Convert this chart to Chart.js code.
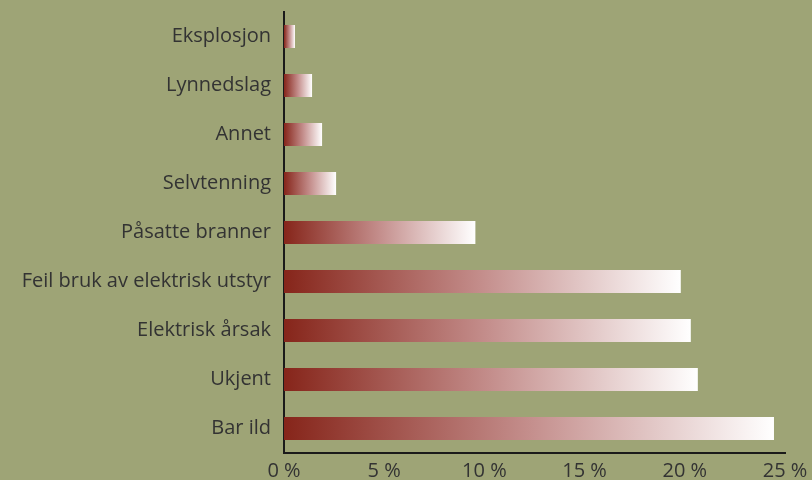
<!DOCTYPE html>
<html lang="no">
  <head>
    <meta charset="UTF-8" />
    <script src="https://cdn.jsdelivr.net/npm/chart.js@4/dist/chart.umd.min.js"></script>
    <title>Brannårsaker</title>
    <style>
      html, body { margin: 0; padding: 0; background: #9ea476; }
      #wrap { width: 812px; height: 480px; }
    </style>
  </head>
  <body>
    <div id="wrap"><canvas id="myChart"></canvas></div>
    <script>
      const causes = [
        "Eksplosjon",
        "Lynnedslag",
        "Annet",
        "Selvtenning",
        "Påsatte branner",
        "Feil bruk av elektrisk utstyr",
        "Elektrisk årsak",
        "Ukjent",
        "Bar ild",
      ];
      const shares = [0.55, 1.4, 1.9, 2.6, 9.55, 19.8, 20.3, 20.65, 24.45];
      const xTicks = [0, 5, 10, 15, 20, 25];

      function barFill(context) {
        const chart = context.chart;
        const x = chart.scales && chart.scales.x;
        if (!chart.chartArea || !x) return "#a05a50";
        const v = context.raw;
        const x0 = x.getPixelForValue(0);
        const x1 = x.getPixelForValue(v);
        if (!isFinite(x0) || !isFinite(x1) || x1 <= x0) return "#a05a50";
        const g = chart.ctx.createLinearGradient(x0, 0, x1, 0);
        g.addColorStop(0, "#86251a");
        g.addColorStop(0.5, "#c48e8c");
        g.addColorStop(1, "#ffffff");
        return g;
      }

      const font = { family: "Open Sans", size: 20 };

      const ctx = document.getElementById("myChart").getContext("2d");
      const myChart = new Chart(ctx, {
        type: "bar",
        data: {
          labels: causes,
          datasets: [
            {
              data: shares,
              backgroundColor: barFill,
              borderWidth: 0,
              barPercentage: 0.47,
              categoryPercentage: 1,
            },
          ],
        },
        options: {
          indexAxis: "y",
          responsive: true,
          maintainAspectRatio: false,
          animation: false,
          layout: { padding: { top: 12, right: 0, left: 0, bottom: 0 } },
          plugins: { legend: { display: false }, tooltip: { enabled: false } },
          scales: {
            x: {
              min: 0,
              max: 25,
              afterBuildTicks: (axis) => {
                axis.ticks = xTicks.map((v) => ({ value: v }));
              },
              afterFit: (axis) => {
                axis.height = 27;
                axis.paddingRight = 27;
                axis.paddingLeft = 0;
              },
              grid: { display: false, drawTicks: false },
              border: { display: true, color: "#1a1a1a", width: 2 },
              ticks: {
                color: "#333333",
                padding: 6,
                font: font,
                callback: (v) => v + " %",
              },
            },
            y: {
              afterFit: (axis) => {
                axis.width = 284;
                axis.paddingTop = 0;
                axis.paddingBottom = 0;
              },
              grid: { display: false, drawTicks: false },
              border: { display: true, color: "#1a1a1a", width: 2 },
              ticks: {
                color: "#333333",
                padding: 13,
                font: font,
              },
            },
          },
        },
      });
    </script>
  </body>
</html>
